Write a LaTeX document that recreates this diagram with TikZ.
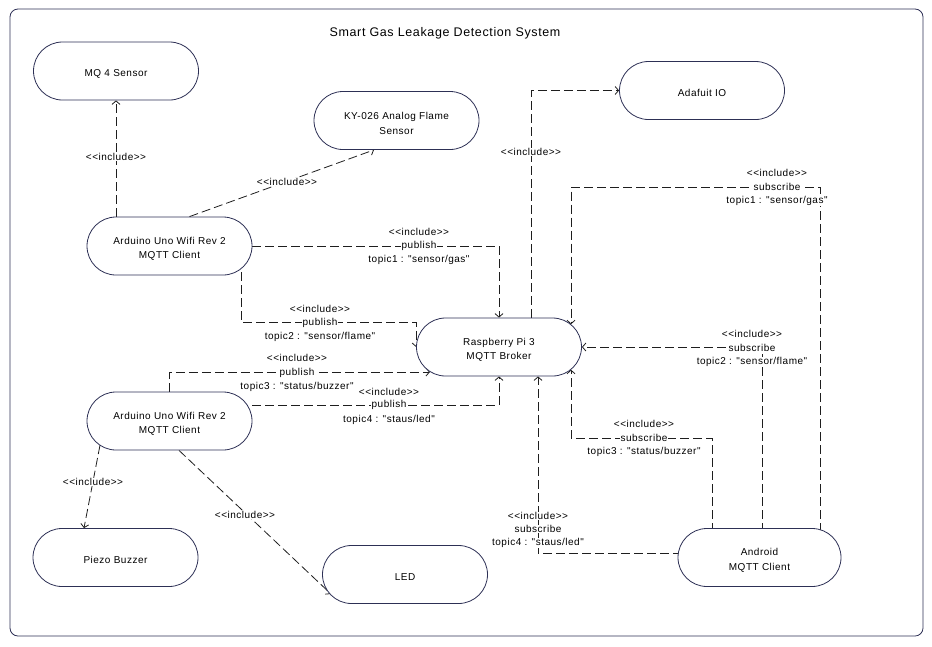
\documentclass[tikz,border=0pt]{standalone}
\usepackage{fontspec}
\setmainfont{Liberation Sans}[LetterSpace=5,Ligatures=TeXOff]
\usetikzlibrary{shapes.misc,arrows.meta,calc,backgrounds}
\definecolor{nodeborder}{RGB}{45,48,85}
\definecolor{linecol}{RGB}{30,30,30}
\newcommand{\tstrut}{\rule{0pt}{12.8pt}}
\begin{document}
\begin{tikzpicture}[x=1pt,y=-1pt,
  uc/.style={rounded rectangle, draw=nodeborder, line width=0.8pt, fill=white,
    minimum width=165pt, minimum height=58pt, inner sep=0pt, align=center,
    font=\fontsize{10}{14.5}\selectfont, text=black},
  dep/.style={draw=linecol, line width=0.8pt, dash pattern=on 9pt off 4pt,
    -{Straight Barb[length=3.5pt,width=8pt]}},
  lbl/.style={fill=white, inner sep=0.6pt, font=\fontsize{10}{12}\selectfont, text=black}
]
\useasboundingbox (0,0) rectangle (932,646);

% nodes
\node[uc] (mq4)   at (116,71)      {\tstrut MQ 4 Sensor};
\node[uc] (ky)    at (396.5,120.5) {\tstrut KY-026 Analog Flame\\Sensor};
\node[uc] (ada)   at (702,90.5)    {\tstrut Adafuit IO};
\node[uc] (ard1)  at (169.5,246)   {\tstrut Arduino Uno Wifi Rev 2\\MQTT Client};
\node[uc] (rpi)   at (499,347)     {\tstrut Raspberry Pi 3\\MQTT Broker};
\node[uc] (ard2)  at (169.5,421)   {\tstrut Arduino Uno Wifi Rev 2\\MQTT Client};
\node[uc] (piezo) at (115.5,557.5) {\tstrut Piezo Buzzer};
\node[uc] (led)   at (405,574.5)   {\tstrut LED};
\node[uc, minimum width=163pt] (andr) at (759.5,557.5) {\tstrut Android\\MQTT Client};

\node[font=\fontsize{12.5}{15}\selectfont] (title) at (445,33) {Smart Gas Leakage Detection System};

\begin{scope}[on background layer]
\draw[draw=nodeborder, line width=0.8pt, rounded corners=8pt] (10,9) rectangle (923,636);
% Arduino 1
\draw[dep] (mq4.south |- ard1.north) -- (mq4.south);
\draw[dep] ([xshift=20pt]ard1.north) -- ([xshift=-22.5pt]ky.south);
\draw[dep] (ard1.east) -| (rpi.north);
\draw[dep] ([xshift=71.5pt]ard1.center) |- ($(rpi.west)+(0,-25)$) -- (rpi.west);
% Arduino 2
\draw[dep] (ard2.north) |- ($(rpi.center)+(-69,25)$);
\draw[dep] ([yshift=16pt]ard2.east) -| (rpi.south);
\draw[dep] ($(ard2.center)+(-69.5,24.2)$) -- ([xshift=-31.5pt]piezo.north);
\draw[dep] ([xshift=9.5pt]ard2.south) -- ($(led.center)+(-74,19.5)$);
% Raspberry Pi
\draw[dep] ([xshift=32pt]rpi.north) |- (ada.west);
% Android
\draw[dep] ([xshift=60.5pt]andr.center) |- ($(rpi.center)+(72,-160)$) -- ($(rpi.center)+(72,-22.7)$);
\draw[dep] ([xshift=2.5pt]andr.center) |- (rpi.east);
\draw[dep] ([xshift=-47.5pt]andr.center) |- ($(rpi.center)+(72,91)$) -- ($(rpi.center)+(72,22.7)$);
\draw[dep] ([yshift=4.5pt]andr.center) -| ([xshift=39pt]rpi.south);
\end{scope}

% labels
\node[lbl] (l1) at (116,157) {<<include>>};
\node[lbl] (l2) at (287,182) {<<include>>};
\node[lbl] (l3a) at (419,232) {<<include>>};
\node[lbl] (l3b) at (419,246) {publish};
\node[lbl] (l3c) at (419,260) {topic1 : "sensor/gas"};
\node[lbl] (l4a) at (320,309) {<<include>>};
\node[lbl] (l4b) at (320,323) {publish};
\node[lbl] (l4c) at (320,337) {topic2 : "sensor/flame"};
\node[lbl] (l5a) at (297,358) {<<include>>};
\node[lbl] (l5b) at (297,373) {publish};
\node[lbl] (l5c) at (297,387) {topic3 : "status/buzzer"};
\node[lbl] (l6a) at (389,392) {<<include>>};
\node[lbl] (l6b) at (389,405) {publish};
\node[lbl] (l6c) at (389,420) {topic4 : "staus/led"};
\node[lbl] (l7) at (531,152) {<<include>>};
\node[lbl] (l8a) at (777,173) {<<include>>};
\node[lbl] (l8b) at (777,187) {subscribe};
\node[lbl] (l8c) at (777,201) {topic1 : "sensor/gas"};
\node[lbl] (l9a) at (752,334) {<<include>>};
\node[lbl] (l9b) at (752,348) {subscribe};
\node[lbl] (l9c) at (752,362) {topic2 : "sensor/flame"};
\node[lbl] (l10a) at (644,424) {<<include>>};
\node[lbl] (l10b) at (644,438) {subscribe};
\node[lbl] (l10c) at (644,452) {topic3 : "status/buzzer"};
\node[lbl] (l11a) at (538,516) {<<include>>};
\node[lbl] (l11b) at (538,529) {subscribe};
\node[lbl] (l11c) at (538,543) {topic4 : "staus/led"};
\node[lbl] (l12) at (93,482) {<<include>>};
\node[lbl] (l13) at (245,515) {<<include>>};
\end{tikzpicture}
\end{document}
